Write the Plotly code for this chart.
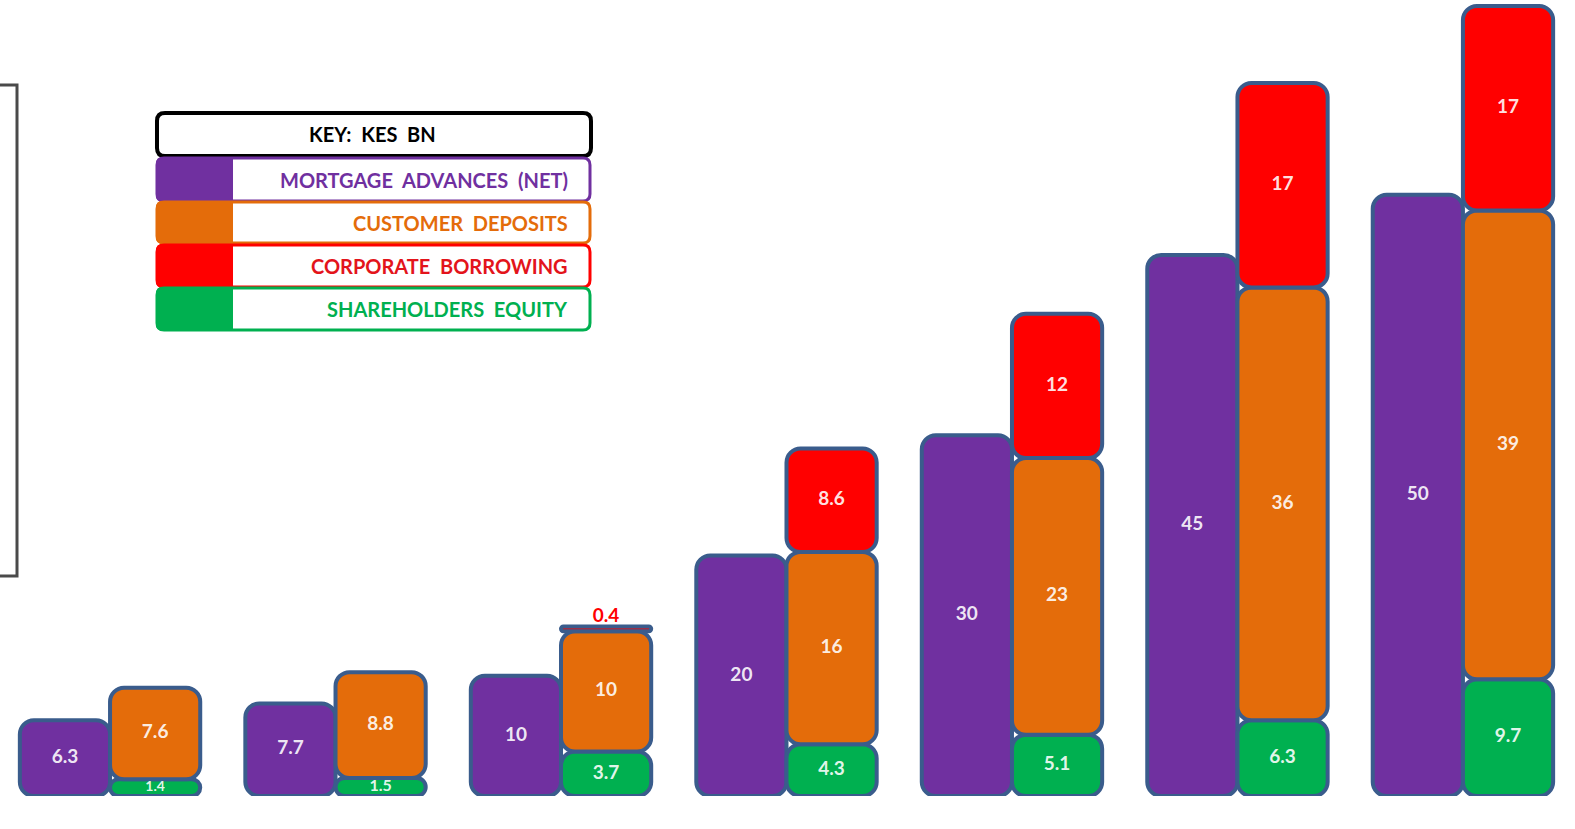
import numpy as np
import plotly.graph_objects as go

# ---- data (KES bn) ----
periods = [1, 2, 3, 4, 5, 6, 7]
mortgage_advances = [6.3, 7.7, 10, 20, 30, 45, 50]
shareholders_equity = [1.4, 1.5, 3.7, 4.3, 5.1, 6.3, 9.7]
customer_deposits = [7.6, 8.8, 10, 16, 23, 36, 39]
corporate_borrowing = [None, None, 0.4, 8.6, 12, 17, 17]

series_names = ["MORTGAGE  ADVANCES  (NET)", "CUSTOMER  DEPOSITS",
                "CORPORATE  BORROWING", "SHAREHOLDERS  EQUITY"]
key_title = "KEY:  KES  BN"

# ---- styling ----
W, H = 1575, 829
MARGIN_B = 33
PLOT_H = H - MARGIN_B
Y_TOP = 66.2
X_RANGE = [-0.488, 6.497]
BAR_W = 0.4
OUTLINE = "#3A5C8C"
PURPLE = "#7030A0"
ORANGE = "#E46C0A"
RED = "#FF0000"
GREEN = "#00B050"
FONT = "Lato, Open Sans, sans-serif"
LABEL_SIZE = 19
LABEL_COLOR = "rgba(255,255,255,0.9)"

fig = go.Figure()

x_idx = np.arange(len(periods), dtype=float)
x_left = x_idx - BAR_W / 2
x_right = x_idx + BAR_W / 2


def to_arr(vals):
    return np.array([np.nan if v is None else v for v in vals], dtype=float)


def add_segments(xs, vals, bases, color):
    # an explicit base makes plotly round all four corners of every segment
    vals = to_arr(vals)
    fig.add_trace(go.Bar(
        x=xs, y=[None if np.isnan(v) else v for v in vals], base=list(bases),
        width=BAR_W, cliponaxis=False,
        marker=dict(color=color, line=dict(color=OUTLINE, width=4)),
        hoverinfo="skip", showlegend=False,
    ))


def add_labels(xs, vals, bases, small_color):
    vals = to_arr(vals)
    px_per_unit = PLOT_H / Y_TOP
    in_x, in_y, in_t, in_s = [], [], [], []
    out_x, out_y, out_t = [], [], []
    for x, v, b in zip(xs, vals, bases):
        if np.isnan(v):
            continue
        seg_px = v * px_per_unit
        if seg_px < 12:
            out_x.append(x); out_y.append(b + v); out_t.append(f"{v:g}")
        else:
            in_x.append(x); in_y.append(b + v / 2); in_t.append(f"{v:g}")
            in_s.append(min(LABEL_SIZE, int(seg_px - 2)))
    fig.add_trace(go.Scatter(x=in_x, y=in_y, text=in_t, mode="text", cliponaxis=False,
                             textfont=dict(family=FONT, size=in_s, weight="bold", color=LABEL_COLOR),
                             hoverinfo="skip", showlegend=False))
    if out_x:
        fig.add_trace(go.Scatter(x=out_x, y=out_y, text=out_t, mode="text",
                                 textposition="top center", cliponaxis=False,
                                 textfont=dict(family=FONT, size=LABEL_SIZE, weight="bold",
                                               color=small_color),
                                 hoverinfo="skip", showlegend=False))


zeros = np.zeros(len(periods))
eq = to_arr(shareholders_equity)
dep = to_arr(customer_deposits)
base_dep = np.nan_to_num(eq)
base_bor = base_dep + np.nan_to_num(dep)

add_segments(x_left, mortgage_advances, zeros, PURPLE)
add_segments(x_right, shareholders_equity, zeros, GREEN)
add_segments(x_right, customer_deposits, base_dep, ORANGE)
add_segments(x_right, corporate_borrowing, base_bor, RED)

add_labels(x_left, mortgage_advances, zeros, PURPLE)
add_labels(x_right, shareholders_equity, zeros, GREEN)
add_labels(x_right, customer_deposits, base_dep, ORANGE)
add_labels(x_right, corporate_borrowing, base_bor, RED)


# ---- key box (laid out in pixels, converted to paper coordinates) ----
def px(xp):
    return xp / W


def py(yp):
    return (PLOT_H - yp) / PLOT_H


def rounded_path(x0, y0, x1, y1, r, left=True, right=True):
    rl = r if left else 0
    rr = r if right else 0
    pts = [
        ("M", (x0 + rl, y0)), ("L", (x1 - rr, y0)),
        ("Q", (x1, y0), (x1, y0 + rr)), ("L", (x1, y1 - rr)),
        ("Q", (x1, y1), (x1 - rr, y1)), ("L", (x0 + rl, y1)),
        ("Q", (x0, y1), (x0, y1 - rl)), ("L", (x0, y0 + rl)),
        ("Q", (x0, y0), (x0 + rl, y0)),
    ]
    out = []
    for item in pts:
        cmd, coords = item[0], item[1:]
        out.append(cmd + " " + " ".join(f"{px(a):.5f},{py(b):.5f}" for a, b in coords))
    return " ".join(out) + " Z"


shapes = []
KX0, KX1 = 157, 591
shapes.append(dict(type="path", xref="paper", yref="paper",
                   path=rounded_path(KX0, 113, KX1, 156, 8),
                   fillcolor="white", line=dict(color="black", width=4)))

rows = [(158, 201, PURPLE, PURPLE), (202, 243, ORANGE, ORANGE),
        (245, 287, RED, "#E3141B"), (288, 330, GREEN, GREEN)]
annotations = [dict(text=f"<b>{key_title}</b>".replace("  ", "&nbsp; "), x=px(372), y=py(134),
                    xref="paper", yref="paper",
                    showarrow=False, xanchor="center", yanchor="middle",
                    font=dict(family=FONT, size=20, color="black"))]
for (y0, y1, col, tcol), name in zip(rows, series_names):
    shapes.append(dict(type="path", xref="paper", yref="paper",
                       path=rounded_path(KX0, y0, KX1 - 1, y1, 7),
                       fillcolor="white", line=dict(color=col, width=3)))
    shapes.append(dict(type="path", xref="paper", yref="paper",
                       path=rounded_path(KX0 - 1, y0 - 1, 233, y1 + 1, 7, right=False),
                       fillcolor=col, line=dict(width=0)))
    annotations.append(dict(text=f"<b>{name}</b>".replace("  ", "&nbsp; "), x=px(570), y=py((y0 + y1) / 2),
                            xref="paper", yref="paper", showarrow=False,
                            xanchor="right", yanchor="middle",
                            font=dict(family=FONT, size=20, color=tcol)))

# bracket edge on the left
shapes.append(dict(type="path", xref="paper", yref="paper",
                   path=f"M {px(0)},{py(85)} L {px(17)},{py(85)} L {px(17)},{py(576)} L {px(0)},{py(576)}",
                   line=dict(color="#4A4A4A", width=3)))

fig.update_layout(
    width=W, height=H,
    margin=dict(l=0, r=0, t=0, b=MARGIN_B),
    paper_bgcolor="white", plot_bgcolor="white",
    barmode="overlay", barcornerradius=14,
    xaxis=dict(range=X_RANGE, visible=False, fixedrange=True),
    yaxis=dict(range=[0, Y_TOP], visible=False, fixedrange=True),
    shapes=shapes, annotations=annotations,
    showlegend=False,
)

fig.write_html("out.html")
